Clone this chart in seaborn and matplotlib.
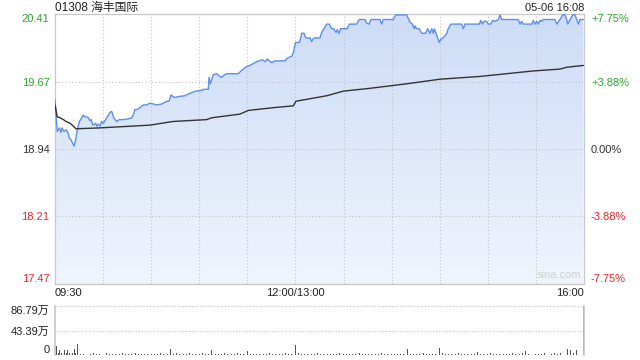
import numpy as np
import matplotlib
matplotlib.use('Agg')
import matplotlib.pyplot as plt
import matplotlib.transforms as mtransforms
import seaborn as sns
from matplotlib.colors import LinearSegmentedColormap

sns.set_theme(style='white')
plt.rcParams['font.family'] = ['Liberation Sans', 'Noto Sans CJK SC', 'DejaVu Sans']

title = '01308 海丰国际'
stamp = '05-06 16:08'
price_ticks = [17.47, 18.21, 18.94, 19.67, 20.41]
price_tick_labels = ['17.47', '18.21', '18.94', '19.67', '20.41']
pct_labels = ['-7.75%', '-3.88%', '0.00%', '+3.88%', '+7.75%']
tick_colors = ['#e8262a', '#e8262a', '#333333', '#2aa52a', '#2aa52a']
time_labels = ['09:30', '12:00/13:00', '16:00']
time_label_pos = [0, 150, 330]
grid_minutes = [30, 60, 90, 120, 150, 180, 210, 240, 270, 300]
vol_ticks = [0, 43.39, 86.79]
vol_tick_labels = ['0', '43.39万', '86.79万']

# minutes since 09:30 (lunch break removed)
price_t = [0, 1.4, 2.7, 3.7, 4.4, 5.6, 6.9, 8.3, 8.9, 10, 10.8, 11.9, 12.7, 13.9, 15.2,
           16.7, 17.7, 18.7, 19.8, 20.8, 21.8, 22.6, 23.5, 24.3, 25.4, 26, 27, 28.1, 29.1,
           30.1, 31.2, 32.6, 34.3, 35.4, 36.4, 37.4, 38.5, 40.1, 43, 46.2, 47.8, 48.8, 49.9,
           51.3, 53, 55.1, 57.2, 59.3, 61.3, 63.4, 66.6, 69.7, 71.1, 72.4, 73.6, 75.3, 76.5,
           81.1, 83.2, 86.3, 87.8, 91.5, 93.1, 95.6, 96.1, 96.9, 97.8, 98.8, 100.9, 102.9,
           104, 105, 107.1, 114.3, 116, 117.5, 119.6, 121.6, 123.7, 125.8, 127.3, 128.9,
           129.6, 131, 132.4, 133.7, 135.2, 137.2, 143.5, 144.9, 147.7, 148.7,
           150, 150.8, 152.4, 153.3, 153.9, 155.3, 156.4, 159.1, 160.1, 161.1, 161.8, 165.3,
           166.4, 167.8, 169.5, 171.1, 172.6, 173.9, 175.3, 176.1, 177.2, 178.2, 182.3,
           183.6, 188.2, 189.8, 193.4, 194.4, 195.9, 197.1, 202.7, 203.8, 204.8, 211, 212.5,
           219.4, 221.5, 222.9, 224, 224.6, 225.6, 227.1, 228.8, 231.2, 232.5, 233.9, 235,
           236, 236.6, 237.7, 238.7, 239.6, 240.8, 242.2, 244.4, 245.3, 247, 253.7, 254.7,
           255.8, 264.7, 265.6, 266.6, 267.7, 269.3, 270.3, 271.8, 273, 274.5, 276.6, 277.6,
           278.7, 289, 290.1, 291.1, 292.1, 297.4, 298.4, 299.4, 300.5, 301.5, 302.6, 303.6,
           304.6, 311.9, 313, 315, 316.7, 318.2, 319.2, 319.9, 321.3, 323, 324.4, 325.5,
           326.5, 327.5, 329.6]
price_v = [19.48, 19.13, 19.17, 19.12, 19.17, 19.13, 19.15, 19.11, 19.06, 19.04, 19.01, 18.97,
           19.02, 19.15, 19.24, 19.28, 19.31, 19.29, 19.29, 19.28, 19.25, 19.26, 19.20, 19.21,
           19.22, 19.19, 19.21, 19.19, 19.24, 19.22, 19.25, 19.29, 19.34, 19.35, 19.29, 19.26,
           19.24, 19.26, 19.26, 19.27, 19.28, 19.31, 19.37, 19.37, 19.39, 19.42, 19.42, 19.44,
           19.43, 19.42, 19.43, 19.46, 19.46, 19.53, 19.51, 19.50, 19.51, 19.52, 19.54, 19.56,
           19.57, 19.58, 19.59, 19.59, 19.72, 19.65, 19.70, 19.75, 19.76, 19.73, 19.72, 19.74,
           19.76, 19.76, 19.79, 19.81, 19.84, 19.85, 19.87, 19.89, 19.90, 19.91, 19.91, 19.89,
           19.92, 19.90, 19.88, 19.90, 19.90, 19.93, 19.95, 19.99,
           20.10, 20.10, 20.10, 20.15, 20.20, 20.20, 20.15, 20.15, 20.11, 20.14, 20.15, 20.15,
           20.21, 20.25, 20.30, 20.30, 20.25, 20.25, 20.21, 20.24, 20.20, 20.25, 20.25,
           20.30, 20.30, 20.35, 20.35, 20.31, 20.30, 20.35, 20.35, 20.30, 20.35, 20.35, 20.40,
           20.40, 20.32, 20.30, 20.25, 20.28, 20.25, 20.25, 20.20, 20.20, 20.25, 20.20, 20.25,
           20.20, 20.25, 20.20, 20.15, 20.10, 20.14, 20.15, 20.20, 20.25, 20.30, 20.30, 20.25,
           20.30, 20.30, 20.34, 20.30, 20.33, 20.33, 20.30, 20.30, 20.34, 20.33, 20.35, 20.40,
           20.35, 20.35, 20.30, 20.33, 20.30, 20.30, 20.34, 20.30, 20.33, 20.30, 20.34, 20.33,
           20.35, 20.35, 20.30, 20.35, 20.40, 20.40, 20.35, 20.30, 20.35, 20.40, 20.40, 20.35,
           20.30, 20.35, 20.35]

avg_t = [0, 1.4, 3.1, 5.2, 6.9, 9.4, 11.4, 13.1, 28.1, 48.8, 59.3, 73.8, 94.6, 97.8, 115.4,
         120.6, 136.2, 148.7, 150.3, 169.5, 179.9, 196.1, 219.4, 227.7, 240.2, 265.1, 298.4,
         315, 319.2, 329.6]
avg_v = [19.42, 19.29, 19.28, 19.26, 19.24, 19.22, 19.19, 19.16, 19.17, 19.19, 19.20, 19.24,
         19.26, 19.28, 19.32, 19.36, 19.39, 19.41, 19.46, 19.52, 19.57, 19.60, 19.65, 19.67,
         19.70, 19.73, 19.79, 19.81, 19.83, 19.85]

# volume (万股)
vol_t = list(range(0, 15)) + list(range(16, 329, 2)) + [330]
vol_v = [26, 16, 4, 8, 3, 8, 9, 3, 9, 4, 7, 3, 10.6, 3, 20,
         2.0, 1.5, 2.5, 1.2, 2.8, 1.6, 2.2, 1.4, 3.0, 1.8,
         2.4, 1.3, 2.0, 2.9, 1.5, 2.2, 1.7, 3.2, 1.4, 2.1,
         1.8, 2.6, 1.3, 2.4, 1.9, 2.8, 1.5, 2.2, 11.0, 2.0,
         3.0, 1.6, 2.3, 1.4, 2.7, 1.8, 2.1, 1.5, 2.9, 1.7,
         2.2, 9.4, 2.5, 1.6, 2.0, 2.8, 1.4, 2.3, 1.9, 3.1,
         1.6, 2.4, 7.6, 2.0, 1.5, 2.6, 1.8, 2.2, 1.4, 2.9,
         1.7, 2.3, 2.0, 1.5, 2.7, 1.8, 2.4, 18.0, 3.5, 2.1,
         1.8, 2.5, 1.6, 2.2, 3.0, 1.5, 2.0, 2.6, 1.4, 2.3,
         1.9, 2.8, 1.5, 2.1, 1.7, 2.4, 1.3, 2.9, 2.0, 1.6,
         2.5, 1.8, 2.2, 1.4, 2.7, 1.9, 2.3, 1.5, 2.0, 2.6,
         1.7, 2.1, 10.6, 2.4, 1.6, 2.2, 1.8, 2.8, 1.5, 2.3,
         2.0, 1.6, 12.4, 3.0, 1.8, 2.4, 1.5, 2.1, 2.7, 1.7,
         2.2, 1.4, 2.6, 1.9, 5.3, 2.3, 1.6, 2.0, 2.8, 1.5,
         2.1, 2.5, 1.7, 2.2, 1.4, 2.9, 1.8, 2.4, 3.2, 7.0,
         2.0, 5.0, 2.6, 1.9, 2.3, 3.1, 1.7, 2.5, 4.0, 2.2,
         2.8, 3.4, 10.6, 8.5, 3.0, 8.5, 6.0,
         86.79]

fig = plt.figure(figsize=(6.4, 3.6), dpi=100)
ax = fig.add_axes([55 / 640, 76 / 360, 529 / 640, 270 / 360])
axv = fig.add_axes([55 / 640, 5 / 360, 529 / 640, 49 / 360])

ymin, ymax = price_ticks[0], price_ticks[-1]
xmin, xmax = 0, 330

# gradient area under the price line
poly = ax.fill_between(price_t, price_v, ymin, color='none', lw=0)
grad = np.linspace(0, 1, 256).reshape(-1, 1)
cmap = LinearSegmentedColormap.from_list('g', ['#f0f5fd', '#cddcf7'])
im = ax.imshow(grad, extent=[xmin, xmax, ymin, ymax], origin='lower', aspect='auto',
               cmap=cmap, zorder=1)
im.set_clip_path(poly.get_paths()[0], transform=ax.transData)

sns.lineplot(x=price_t, y=price_v, ax=ax, color='#5b8ff0', lw=1.0, estimator=None,
             sort=False, zorder=4)
sns.lineplot(x=avg_t, y=avg_v, ax=ax, color='#333333', lw=1.0, estimator=None,
             sort=False, zorder=5)

ax.set_xlim(xmin, xmax)
ax.set_ylim(ymin, ymax)
ax.set_xticks(grid_minutes)
ax.set_xticklabels([])
ax.set_yticks(price_ticks)
ax.set_yticklabels(price_tick_labels)
ax.tick_params(axis='both', length=0, labelsize=8, pad=4)
ax.grid(True, linestyle=(0, (1, 2)), color='#c4c4c4', lw=0.8)
ax.set_axisbelow(False)
for lab, c in zip(ax.get_yticklabels(), tick_colors):
    lab.set_color(c)
ax.get_yticklabels()[0].set_va('bottom')
ax.get_yticklabels()[-1].set_va('top')
for s in ax.spines.values():
    s.set_color('#c8c8c8')
    s.set_linewidth(0.9)
ax.set_xlabel('')
ax.set_ylabel('')

axr = ax.twinx()
axr.set_ylim(ymin, ymax)
axr.set_yticks(price_ticks)
axr.set_yticklabels(pct_labels)
axr.tick_params(axis='y', length=0, labelsize=8, pad=5)
for lab, c in zip(axr.get_yticklabels(), tick_colors):
    lab.set_color(c)
axr.get_yticklabels()[0].set_va('bottom')
axr.get_yticklabels()[-1].set_va('top')
axr.grid(False)
for s in axr.spines.values():
    s.set_visible(False)

trans = mtransforms.blended_transform_factory(ax.transData, ax.transAxes)
for pos, lab, ha in zip(time_label_pos, time_labels, ['left', 'center', 'right']):
    ax.text(pos, -0.033, lab, transform=trans, ha=ha, va='center', fontsize=8,
            color='#222222')

ax.text(0.995, 0.015, 'sina.com', transform=ax.transAxes, ha='right', va='bottom',
        fontsize=8, color='#d2d2d2')

fig.text(55 / 640, 1 - 8 / 360, title, ha='left', va='center', fontsize=8.5,
         color='#222222')
fig.text(584 / 640, 1 - 8 / 360, stamp, ha='right', va='center', fontsize=8,
         color='#222222')

# volume panel
axv.bar(vol_t, vol_v, width=0.6, color='#555555', linewidth=0)
axv.set_xlim(xmin, xmax + 0.5)
axv.set_ylim(0, vol_ticks[-1])
axv.set_xticks([])
axv.set_yticks(vol_ticks)
axv.set_yticklabels(vol_tick_labels)
axv.tick_params(axis='y', length=0, labelsize=8, pad=4, colors='#222222')
axv.get_yticklabels()[0].set_va('bottom')
axv.get_yticklabels()[-1].set_va('top')
axv.grid(False)
for yv in vol_ticks[1:]:
    axv.axhline(yv, color='#c4c4c4', lw=0.8, linestyle=(0, (1, 1.5)), zorder=0)
axv.spines['top'].set_visible(False)
axv.spines['bottom'].set_visible(False)
axv.spines['left'].set_color('#c8c8c8')
axv.spines['right'].set_color('#c8c8c8')

fig.savefig('out.png', dpi=100)
